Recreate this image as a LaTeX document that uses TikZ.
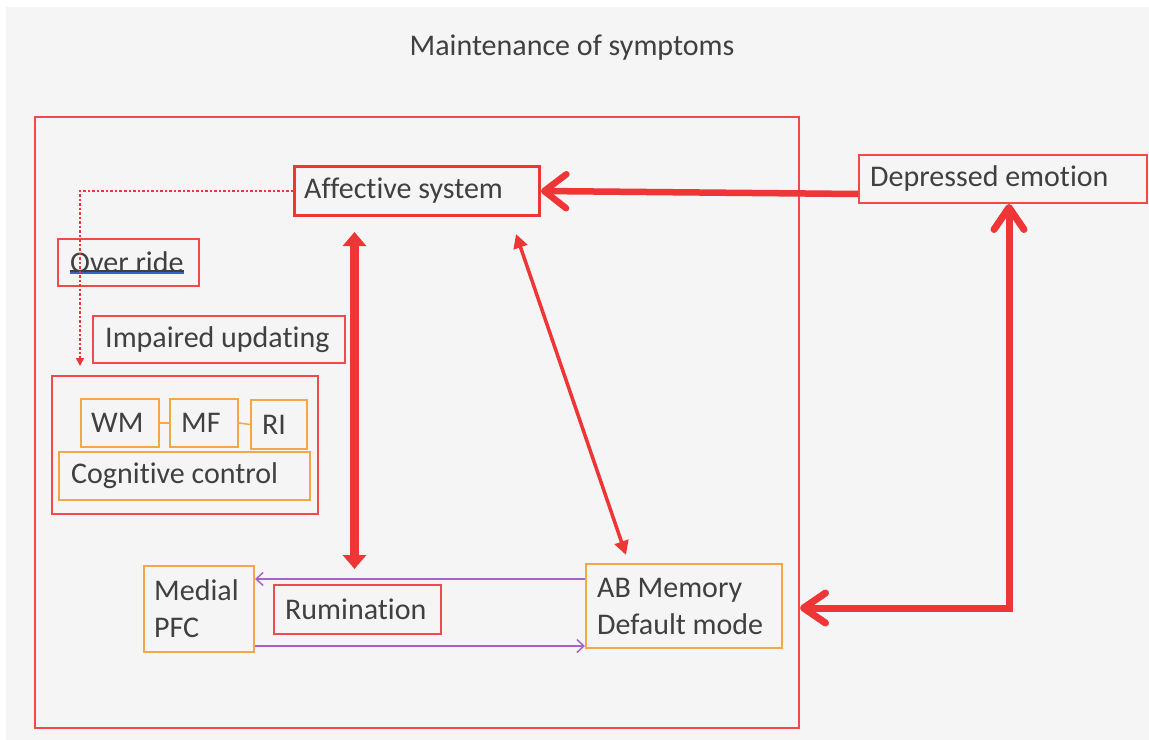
\documentclass[tikz,border=0pt]{standalone}
\usepackage{fontspec}
\setmainfont{Carlito}[Ligatures={NoCommon}]
\usetikzlibrary{arrows.meta,calc}
\definecolor{bgc}{HTML}{F5F5F5}
\definecolor{txt}{HTML}{404040}
\definecolor{redline}{HTML}{EE3636}
\definecolor{boxred}{HTML}{F04A4A}
\definecolor{orangeline}{HTML}{F0A848}
\definecolor{purpleline}{HTML}{A466C4}
\definecolor{ulblue}{HTML}{3A5FC8}
\begin{document}
\color{txt}%
\begin{tikzpicture}[x=1bp,y=-1bp,
  every node/.style={font=\fontsize{30bp}{37bp}\selectfont},
  shape box/.style={anchor=north west, inner sep=0pt, line width=2bp},
  redbox/.style={shape box, draw=boxred},
  orangebox/.style={shape box, draw=orangeline},
  boxtext/.style={anchor=west, inner sep=0pt, align=left},
  thickbarb/.style={draw=redline, line width=6.5bp,
    -{Straight Barb[length=22bp,width=34bp,round]}},
  elbowbarb/.style={draw=redline, line width=7bp, line join=miter,
    {Straight Barb[length=22bp,width=30bp,round]}-{Straight Barb[length=22bp,width=30bp,round]}},
  vdbl/.style={draw=redline, line width=8.5bp,
    {Triangle[length=14bp,width=23bp]}-{Triangle[length=14bp,width=23bp]}},
  diagdbl/.style={draw=redline, line width=3.5bp,
    {Triangle[length=14bp,width=14bp]}-{Triangle[length=14bp,width=14bp]}},
  dotarrow/.style={draw=redline, line width=1.5bp, dash pattern=on 2.5bp off 2bp,
    -{Triangle[length=8bp,width=8bp]}},
  purplearrow/.style={draw=purpleline, line width=1.5bp,
    -{Straight Barb[length=7bp,width=13bp]}},
  orangelink/.style={draw=orangeline, line width=1.5bp}
]
\useasboundingbox (0,0) rectangle (1149,740);
\fill[bgc] (6,7) rectangle (1149,740);

% title
\node (title) at (572,48) {Maintenance of symptoms};

% large frame
\node[redbox, line width=1.6bp, minimum width=764bp, minimum height=611bp]
  (frame) at (34,116) {};

% boxes
\node[redbox, draw=redline, line width=3bp, minimum width=245bp, minimum height=49bp]
  (aff) at (293,165) {};
\node[redbox, minimum width=288bp, minimum height=48bp] (dep) at (858,154) {};
\node[redbox, minimum width=141bp, minimum height=47bp] (over) at (57,238) {};
\node[redbox, minimum width=252bp, minimum height=47bp] (imp) at (92,315) {};
\node[redbox, minimum width=266bp, minimum height=138bp] (cogbox) at (51,375) {};
\node[orangebox, minimum width=78bp, minimum height=48bp] (wm) at (80,398) {};
\node[orangebox, minimum width=68bp, minimum height=48bp] (mf) at (169,398) {};
\node[orangebox, minimum width=56bp, minimum height=49bp] (ri) at (250,399) {};
\node[orangebox, minimum width=251bp, minimum height=48bp] (cog) at (58,451) {};
\node[orangebox, minimum width=110bp, minimum height=86bp] (mpfc) at (143,565) {};
\node[redbox, minimum width=167bp, minimum height=49bp] (rum) at (273,584) {};
\node[orangebox, minimum width=196bp, minimum height=84bp] (ab) at (585,563) {};

% box texts
\node[boxtext] (afftext) at ($(aff.west)+(11,0)$) {Affective system};
\node[boxtext] (deptext) at ($(dep.west)+(12,0)$) {Depressed emotion};
\node[boxtext] (overtext) at ($(over.west)+(13,0)$) {Over ride};
\node[boxtext] (imptext) at ($(imp.west)+(13,0)$) {Impaired updating};
\node[boxtext] (wmtext) at ($(wm.west)+(11,0)$) {WM};
\node[boxtext] (mftext) at ($(mf.west)+(12,0)$) {MF};
\node[boxtext] (ritext) at ($(ri.west)+(12,0)$) {RI};
\node[boxtext] (cogtext) at ($(cog.west)+(13,0)$) {Cognitive control};
\node[boxtext] (mpfctext) at ($(mpfc.west)+(11,0)$) {Medial\\PFC};
\node[boxtext] (rumtext) at ($(rum.west)+(12,0)$) {Rumination};
\node[boxtext] (abtext) at ($(ab.west)+(12,0)$) {AB Memory\\Default mode};

% underline under "Over ride"
\draw[txt, line width=1.3bp] ($(over.west)+(13,8.5)$) -- ($(over.west)+(127,8.5)$);
\draw[ulblue, line width=2.4bp] ($(over.west)+(13,10.5)$) -- ($(over.west)+(127,10.5)$);

% links inside cognitive control
\draw[orangelink] (wm.east) -- (mf.west);
\draw[orangelink] (mf.east) -- (ri.west);

% override path
\draw[dotarrow] (aff.west) -| ($(cogbox.north west)+(29,-9)$);

% rumination loop
\coordinate (pa) at ($(ab.west)+(0,-27)$);
\coordinate (pb) at ($(mpfc.east)+(0,37)$);
\draw[purplearrow] (pa) -- (pa -| mpfc.east);
\draw[purplearrow] (pb) -- (pb -| ab.west);

% red connectors
\draw[thickbarb] ($(dep.west)+(0,15)$) -- (aff.east);
\draw[vdbl] ($(aff.south -| rum.north)+(-3,15)$) -- ($(rum.north)+(-3,-15)$);
\draw[diagdbl] ($(aff.south east)+(-25,17)$) -- ($(ab.north west)+(41,-8)$);
\draw[elbowbarb] ($(ab.east)+(17,2)$) -| ($(dep.south)+(6,0)$);
\end{tikzpicture}
\end{document}
